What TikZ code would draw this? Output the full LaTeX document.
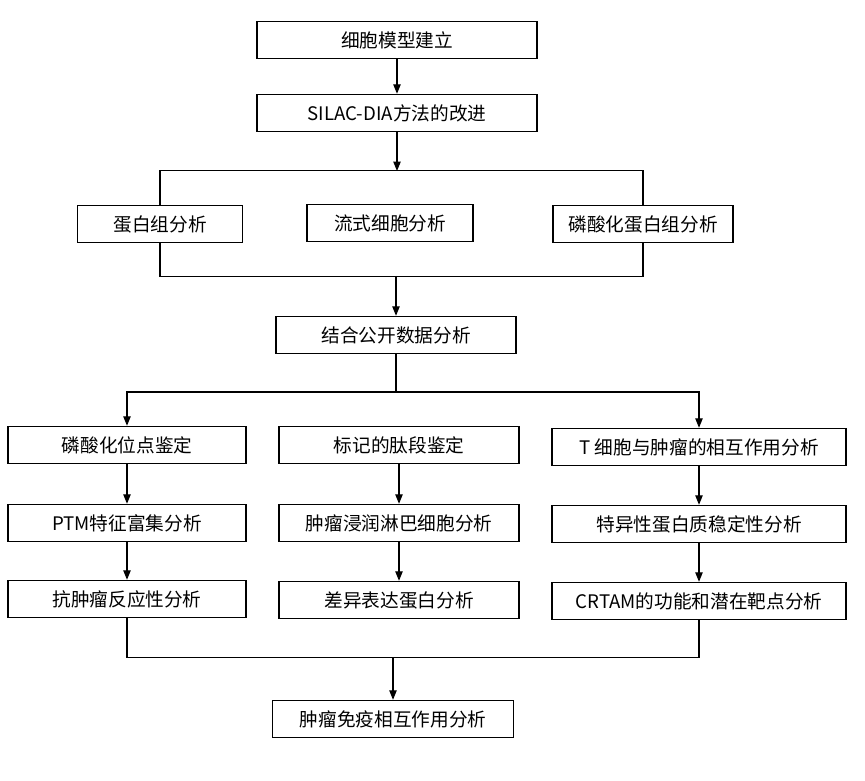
\documentclass[tikz,border=0pt]{standalone}
\usepackage{fontspec}
\setmainfont{Noto Sans CJK SC}
\usetikzlibrary{arrows.meta}

\begin{document}
\begin{tikzpicture} [
    x=0.75pt, y=-0.75pt,
    box/.style={rectangle, draw, line width=1.1pt, minimum height=27.75pt, inner sep=2pt, align=center, font=\fontsize{14}{17}\selectfont},
    line/.style={line width=0.8pt},
    arrow/.style={-{Triangle[length=7pt,width=5.5pt]}, line width=0.8pt}
]
    \useasboundingbox (0,0) rectangle (865,781);

    % 建模层
    \node[box, minimum width=210pt] (cell) at (397,40) {细胞模型建立};
    \node[box, minimum width=210pt] (silac) at (397,113) {SILAC-DIA方法的改进};

    % 组学分析层
    \node[box, minimum width=123.75pt] (prot) at (160,224) {蛋白组分析};
    \node[box, minimum width=124.5pt] (flow) at (390,223) {流式细胞分析};
    \node[box, minimum width=135pt] (phos) at (643,224) {磷酸化蛋白组分析};

    % 公开数据
    \node[box, minimum width=180pt] (pub) at (396,335) {结合公开数据分析};

    % 三列分析
    \node[box, minimum width=178.5pt] (site) at (127,445) {磷酸化位点鉴定};
    \node[box, minimum width=178.5pt] (ptm) at (127,523) {PTM特征富集分析};
    \node[box, minimum width=178.5pt] (anti) at (127,599) {抗肿瘤反应性分析};

    \node[box, minimum width=180pt] (pep) at (399,445) {标记的肽段鉴定};
    \node[box, minimum width=180pt] (til) at (399,523) {肿瘤浸润淋巴细胞分析};
    \node[box, minimum width=180pt] (deg) at (399,600) {差异表达蛋白分析};

    \node[box, minimum width=220.5pt] (tcell) at (699,447) {T 细胞与肿瘤的相互作用分析};
    \node[box, minimum width=220.5pt] (spec) at (699,524) {特异性蛋白质稳定性分析};
    \node[box, minimum width=220.5pt] (crtam) at (699,601) {CRTAM的功能和潜在靶点分析};

    % 汇总
    \node[box, minimum width=180.75pt] (final) at (393,719) {肿瘤免疫相互作用分析};

    \coordinate (bartop) at (397,171);
    \coordinate (barbot) at (396,276);
    \coordinate (split) at (396,392);
    \coordinate (merge) at (393,657);

    % 连接
    \draw[arrow] (cell) -- (silac);
    \draw[arrow] (silac) -- (bartop);
    \draw[line] (prot.north) -- ++(0,-34) -| (phos.north);
    \draw[line] (prot.south) -- ++(0,33) -| (phos.south);
    \draw[arrow] (barbot) -- (pub);
    \draw[line] (pub) -- (split);
    \draw[arrow] (split) -| (site);
    \draw[arrow] (split) -| (tcell);
    \draw[arrow] (site) -- (ptm);
    \draw[arrow] (ptm) -- (anti);
    \draw[arrow] (pep) -- (til);
    \draw[arrow] (til) -- (deg);
    \draw[arrow] (tcell) -- (spec);
    \draw[arrow] (spec) -- (crtam);
    \draw[line] (anti.south) -- ++(0,39) -| (crtam.south);
    \draw[arrow] (merge) -- (final);
\end{tikzpicture}
\end{document}
